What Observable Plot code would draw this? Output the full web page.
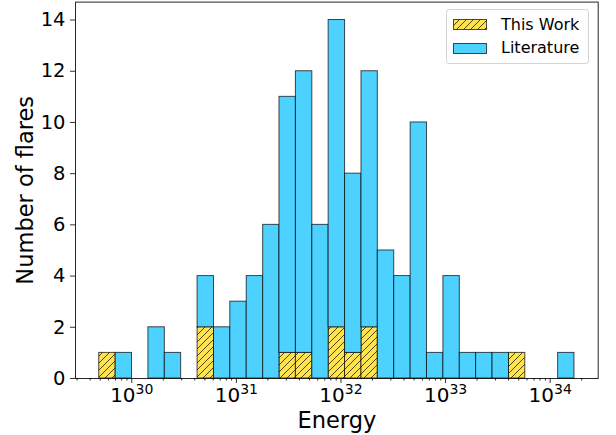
<!DOCTYPE html>
<html>
<head>
<meta charset="utf-8">
<script src="https://cdn.jsdelivr.net/npm/d3@7"></script>
<script src="https://cdn.jsdelivr.net/npm/@observablehq/plot@0.6"></script>
<style>
  html, body { margin: 0; padding: 0; background: #fff; }
  #wrap { position: relative; width: 616px; height: 435px; font-family: "DejaVu Sans", sans-serif; }
  #legend { position: absolute; left: 446px; top: 9px; width: 143px; height: 55px; box-sizing: border-box;
            border: 1px solid #d4d4d4; border-radius: 3px; background: rgba(255,255,255,0.8); }
  .sw { position: absolute; left: 6px; width: 34px; height: 11px; }
  .lt { position: absolute; left: 54px; font-size: 16px; line-height: 18px; color: #000; white-space: nowrap; }
</style>
</head>
<body>
<svg width="0" height="0" style="position:absolute">
  <defs>
    <pattern id="hatch" patternUnits="userSpaceOnUse" width="7" height="7">
      <rect width="7" height="7" fill="#FFE34D"></rect>
      <path d="M-1,1 L1,-1 M0,7 L7,0 M6,8 L8,6" stroke="#000" stroke-opacity="0.7" stroke-width="1"></path>
    </pattern>
  </defs>
</svg>
<div id="wrap"></div>
<script>
// log10(Energy) bin edges of the histogram
const binEdgesLog = [29.689, 29.846, 30.002, 30.159, 30.316, 30.472, 30.629, 30.786, 30.942, 31.099,
                     31.256, 31.412, 31.569, 31.726, 31.882, 32.039, 32.196, 32.352, 32.509, 32.666,
                     32.822, 32.979, 33.136, 33.292, 33.449, 33.606, 33.762, 33.919, 34.076, 34.232];
const thisWorkCounts   = [1, 0, 0, 0, 0, 0, 2, 0, 0, 0, 0, 1, 1, 0, 2, 1, 2, 0, 0, 0, 0, 0, 0, 0, 0, 1, 0, 0, 0];
const literatureCounts = [0, 1, 0, 2, 1, 0, 2, 2, 3, 4, 6, 10, 11, 6, 12, 7, 10, 5, 4, 10, 1, 4, 1, 1, 1, 0, 0, 0, 1];
const seriesNames = ["This Work", "Literature"];
const yTickValues = [0, 2, 4, 6, 8, 10, 12, 14];
const xTickExponents = [30, 31, 32, 33, 34];
const xDomainLog = [29.462, 34.459];
const yDomain = [0, 14.7];

const rows = [];
binEdgesLog.slice(0, -1).forEach((lo, i) => {
  const x1 = 10 ** lo, x2 = 10 ** binEdgesLog[i + 1];
  const tw = thisWorkCounts[i], lit = literatureCounts[i];
  if (tw > 0) rows.push({series: seriesNames[0], x1, x2, y1: 0, y2: tw});
  if (lit > 0) rows.push({series: seriesNames[1], x1, x2, y1: tw, y2: tw + lit});
});

const majorTicks = xTickExponents.map(e => 10 ** e);
const minorTicks = [];
for (let e = Math.floor(xDomainLog[0]); e <= Math.ceil(xDomainLog[1]); e++) {
  for (let k = 2; k <= 9; k++) {
    const v = k * 10 ** e;
    const l = Math.log10(v);
    if (l >= xDomainLog[0] && l <= xDomainLog[1]) minorTicks.push(v);
  }
}

const plot = Plot.plot({
  width: 616,
  height: 435,
  marginLeft: 75,
  marginRight: 18.3,
  marginTop: 1.6,
  marginBottom: 57,
  style: {fontFamily: "DejaVu Sans, sans-serif", color: "#000", background: "transparent"},
  x: {type: "log", domain: xDomainLog.map(v => 10 ** v)},
  y: {domain: yDomain},
  marks: [
    Plot.rect(rows.filter(d => d.series === seriesNames[0]), {
      x1: "x1", x2: "x2", y1: "y1", y2: "y2",
      fill: "url(#hatch)", stroke: "#000", strokeOpacity: 0.7, strokeWidth: 1
    }),
    Plot.rect(rows.filter(d => d.series === seriesNames[1]), {
      x1: "x1", x2: "x2", y1: "y1", y2: "y2",
      fill: "#4DD2FF", stroke: "#000", strokeOpacity: 0.7, strokeWidth: 1
    }),
    Plot.axisY({ticks: yTickValues, tickSize: 5, tickPadding: 5, fontSize: 19.5, label: null, stroke: "#333"}),
    Plot.axisX({ticks: minorTicks, tickSize: 2.5, tickFormat: () => "", label: null, stroke: "#333"}),
    Plot.axisX({ticks: majorTicks, tickSize: 5, tickPadding: 4.5, fontSize: 20, label: null, stroke: "#333",
                tickFormat: d => String(Math.round(Math.log10(d)))}),
    Plot.text(["Energy"], {frameAnchor: "bottom", lineAnchor: "middle", textAnchor: "middle", dy: 42,
                           fontSize: 22.5, text: d => d, fill: "#000"}),
    Plot.text(["Number of flares"], {frameAnchor: "left", lineAnchor: "middle", textAnchor: "middle", dx: -50,
                                     rotate: -90, fontSize: 22.5, text: d => d, fill: "#000"}),
    Plot.frame({stroke: "#000", strokeOpacity: 0.85, strokeWidth: 1})
  ]
});

// render exponent tick labels as 10 with a superscript
d3.select(plot).selectAll('g[aria-label="x-axis tick label"] text').each(function () {
  const t = d3.select(this);
  const e = t.text();
  if (!e) return;
  t.text(null);
  t.append("tspan").text("10");
  t.append("tspan").attr("dy", -8.5).attr("font-size", 14).text(e);
});

const wrap = document.getElementById("wrap");
wrap.appendChild(plot);

const legend = document.createElement("div");
legend.id = "legend";
const fills = ["url(#hatch)", "#4DD2FF"];
seriesNames.forEach((name, i) => {
  const top = i === 0 ? 9 : 32.5;
  const sw = document.createElementNS("http://www.w3.org/2000/svg", "svg");
  sw.setAttribute("class", "sw");
  sw.style.top = top + "px";
  sw.setAttribute("width", 34);
  sw.setAttribute("height", 11);
  sw.innerHTML = `<rect x="0.5" y="0.5" width="33" height="10" fill="${fills[i]}" stroke="#000" stroke-opacity="0.7"></rect>`;
  legend.appendChild(sw);
  const lt = document.createElement("div");
  lt.className = "lt";
  lt.style.top = (top - 3.5) + "px";
  lt.textContent = name;
  legend.appendChild(lt);
});
wrap.appendChild(legend);
</script>
</body>
</html>
